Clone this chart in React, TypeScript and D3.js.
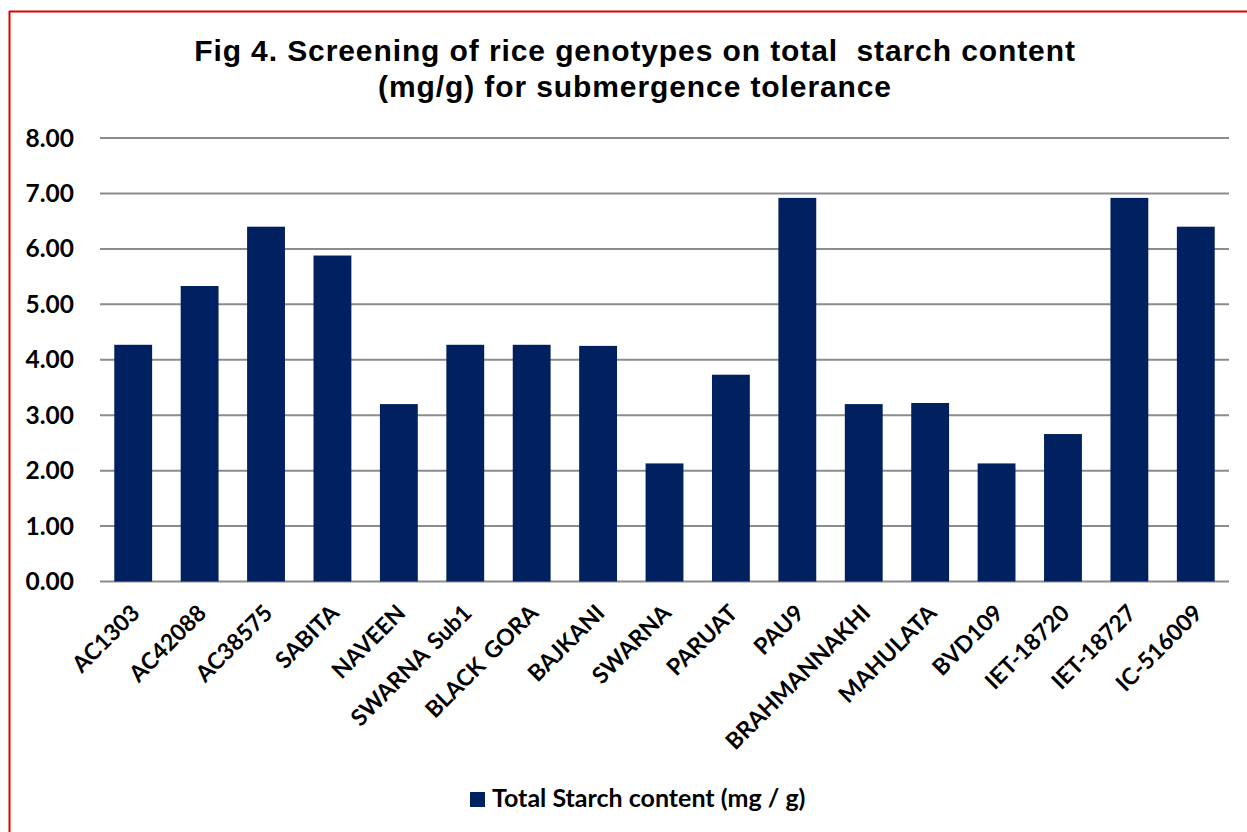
import React, { useEffect, useRef } from "react";
import * as d3 from "d3";

const genotypes = [
  "AC1303", "AC42088", "AC38575", "SABITA", "NAVEEN", "SWARNA Sub1", "BLACK GORA",
  "BAJKANI", "SWARNA", "PARUAT", "PAU9", "BRAHMANNAKHI", "MAHULATA", "BVD109",
  "IET-18720", "IET-18727", "IC-516009",
];
const starch = [4.27, 5.33, 6.4, 5.88, 3.2, 4.27, 4.27, 4.25, 2.13, 3.73, 6.92, 3.2, 3.22, 2.13, 2.66, 6.92, 6.4];
const yTicks = [0, 1, 2, 3, 4, 5, 6, 7, 8];
const titleLines = [
  "Fig 4. Screening of rice genotypes on total  starch content",
  "(mg/g) for submergence tolerance",
];
const seriesName = "Total Starch content (mg / g)";

const W = 1247;
const H = 832;
const labelFont = "Lato, 'Open Sans', sans-serif";

function App() {
  const svgRef = useRef<SVGSVGElement>(null);

  useEffect(() => {
    const svg = d3.select(svgRef.current);
    svg.selectAll("*").remove();

    const plot = { left: 100, right: 1229, top: 138, bottom: 581.5 };

    const x = d3.scaleBand<string>()
      .domain(genotypes)
      .range([plot.left, plot.right])
      .paddingInner(0.43)
      .paddingOuter(0.215);

    const y = d3.scaleLinear().domain([0, 8]).range([plot.bottom, plot.top]);

    svg.append("rect").attr("width", W).attr("height", H).attr("fill", "white");

    // red frame
    svg.append("line").attr("x1", 9.5).attr("x2", 9.5).attr("y1", 11).attr("y2", H)
      .attr("stroke", "#e00000").attr("stroke-width", 2);
    svg.append("line").attr("x1", 9).attr("x2", W).attr("y1", 11.5).attr("y2", 11.5)
      .attr("stroke", "#e00000").attr("stroke-width", 2);

    // title
    svg.append("text")
      .attr("x", 635)
      .attr("text-anchor", "middle")
      .style("font-family", "'Liberation Sans', Arial, sans-serif")
      .style("font-weight", "bold")
      .style("font-size", "30px")
      .style("letter-spacing", "0.9px")
      .selectAll("tspan")
      .data(titleLines)
      .enter()
      .append("tspan")
      .attr("x", 635)
      .attr("y", (d, i) => 61 + i * 36)
      .style("white-space", "pre")
      .text((d) => d);

    // gridlines
    svg.append("g")
      .selectAll("line")
      .data(yTicks)
      .enter()
      .append("line")
      .attr("x1", plot.left)
      .attr("x2", plot.right)
      .attr("y1", (d) => y(d))
      .attr("y2", (d) => y(d))
      .attr("stroke", "#8c8c8c")
      .attr("stroke-width", 2);

    // y tick labels
    svg.append("g")
      .selectAll("text")
      .data(yTicks)
      .enter()
      .append("text")
      .attr("x", 74)
      .attr("y", (d) => y(d))
      .attr("dy", "0.35em")
      .attr("text-anchor", "end")
      .style("font-family", labelFont)
      .style("font-weight", "bold")
      .style("font-size", "24.5px")
      .text((d) => d3.format(".2f")(d));

    // bars
    svg.append("g")
      .selectAll("rect")
      .data(starch)
      .enter()
      .append("rect")
      .attr("x", (d, i) => x(genotypes[i])!)
      .attr("y", (d) => y(d))
      .attr("width", x.bandwidth())
      .attr("height", (d) => y(0) - y(d))
      .attr("fill", "#002060");

    // x labels
    svg.append("g")
      .selectAll("text")
      .data(genotypes)
      .enter()
      .append("text")
      .attr("transform", (d) => `translate(${x(d)! + x.bandwidth() / 2 + 8},${plot.bottom + 33}) rotate(-45)`)
      .attr("text-anchor", "end")
      .style("font-family", labelFont)
      .style("font-weight", "bold")
      .style("font-size", "23px")
      .style("word-spacing", "3px")
      .text((d) => d);

    // legend
    const legend = svg.append("g");
    legend.append("rect").attr("x", 470).attr("y", 792).attr("width", 15).attr("height", 15).attr("fill", "#002060");
    legend.append("text")
      .attr("x", 492)
      .attr("y", 807)
      .style("font-family", labelFont)
      .style("font-weight", "bold")
      .style("font-size", "25px")
      .text(seriesName);
  }, []);

  return (
    <svg ref={svgRef} width={W} height={H} style={{ position: "absolute", left: 0, top: 0 }}></svg>
  );
}

export default App;
